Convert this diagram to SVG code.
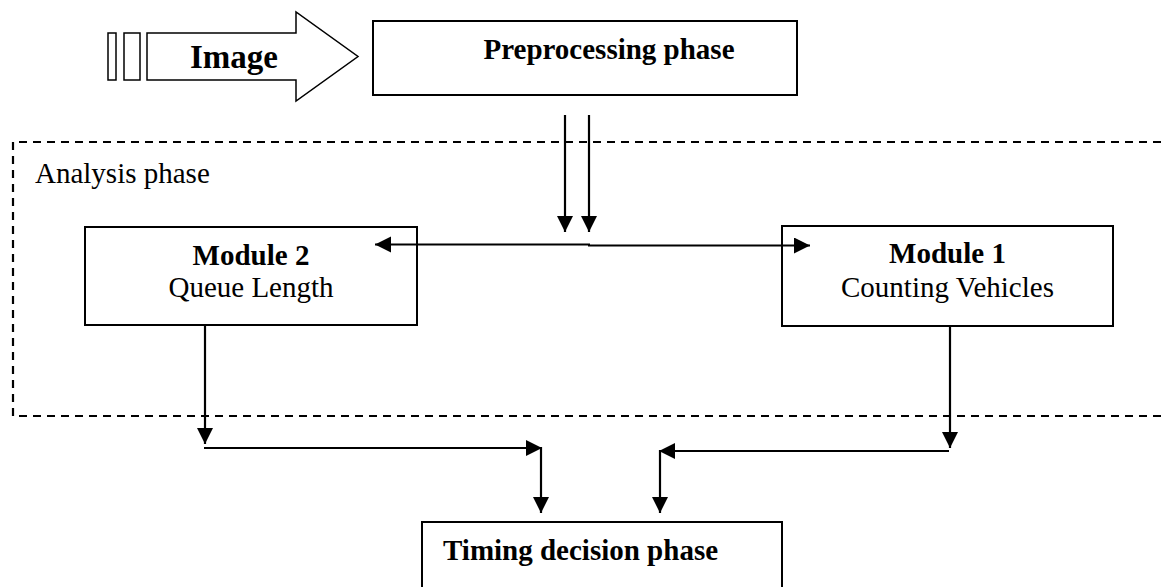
<svg xmlns="http://www.w3.org/2000/svg" width="1161" height="587" viewBox="0 0 1161 587">
  <defs>
    <style>
      .box { fill: #ffffff; stroke: #000000; stroke-width: 2; }
      .thin { fill: #ffffff; stroke: #000000; stroke-width: 1.5; }
      .frame { fill: none; stroke: #000000; stroke-width: 2.2; stroke-dasharray: 8 6; }
      .link { fill: none; stroke: #000000; stroke-width: 2.2; marker-end: url(#head); }
      .bold { font-family: "Liberation Serif", "Times New Roman", serif; font-weight: bold; font-size: 29px; fill: #000000; }
      .reg { font-family: "Liberation Serif", "Times New Roman", serif; font-size: 29px; fill: #000000; }
      .big { font-size: 33px; }
    </style>
    <marker id="head" markerUnits="userSpaceOnUse" markerWidth="18" markerHeight="18" refX="16" refY="8" orient="auto">
      <path d="M0,0 L16,8 L0,16 Z" fill="#000000"/>
    </marker>
  </defs>

  <!-- dashed frame of the analysis stage (open on the right) -->
  <g id="analysis-frame">
    <path class="frame" d="M1161,142 H13 V416 H1161"/>
    <text class="reg" x="35" y="183">Analysis phase</text>
  </g>

  <!-- block arrow carrying the input image -->
  <g id="image-input">
    <rect class="thin" x="108" y="33" width="8" height="47"/>
    <rect class="thin" x="124" y="33" width="16" height="47"/>
    <path class="thin" d="M147,33 H296 V12 L358,56.5 L296,101 V80 H147 Z"/>
    <text class="bold big" x="234" y="68" text-anchor="middle">Image</text>
  </g>

  <g id="preprocessing">
    <rect class="box" x="373" y="21" width="424" height="74"/>
    <text class="bold" x="609" y="59" text-anchor="middle">Preprocessing phase</text>
  </g>

  <g id="module2">
    <rect class="box" x="85" y="227" width="332" height="98"/>
    <text class="bold" x="251" y="265" text-anchor="middle">Module 2</text>
    <text class="reg" x="251" y="297" text-anchor="middle">Queue Length</text>
  </g>

  <g id="module1">
    <rect class="box" x="782" y="226" width="331" height="100"/>
    <text class="bold" x="947.5" y="263" text-anchor="middle">Module 1</text>
    <text class="reg" x="947.5" y="297" text-anchor="middle">Counting Vehicles</text>
  </g>

  <g id="timing">
    <rect class="box" x="422" y="522" width="360" height="80"/>
    <text class="bold" x="443" y="560">Timing decision phase</text>
  </g>

  <!-- connectors -->
  <g id="connectors">
    <!-- preprocessing output down into the analysis stage -->
    <line class="link" x1="565" y1="115" x2="565" y2="232"/>
    <line class="link" x1="589" y1="115" x2="589" y2="232"/>
    <!-- split to both modules -->
    <line class="link" x1="590" y1="244.5" x2="375" y2="244.5"/>
    <line class="link" x1="588" y1="245.5" x2="810" y2="245.5"/>
    <!-- module 2 to timing decision -->
    <line class="link" x1="205" y1="325" x2="205" y2="444"/>
    <line class="link" x1="204" y1="448" x2="542" y2="448"/>
    <line class="link" x1="541" y1="447" x2="541" y2="513"/>
    <!-- module 1 to timing decision -->
    <line class="link" x1="950" y1="326" x2="950" y2="448"/>
    <line class="link" x1="949" y1="451" x2="659" y2="451"/>
    <line class="link" x1="660" y1="450" x2="660" y2="513"/>
  </g>
</svg>
